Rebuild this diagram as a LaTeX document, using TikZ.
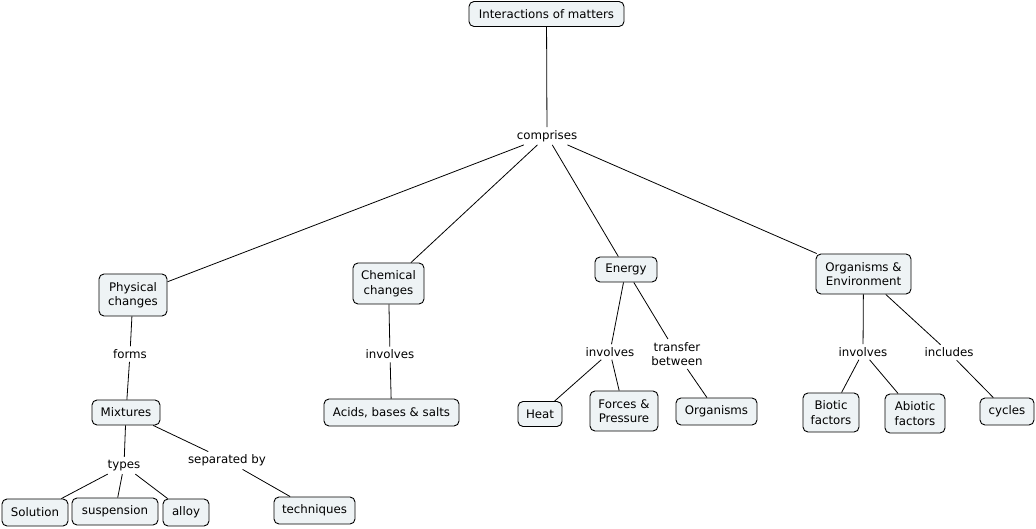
\documentclass[tikz,border=0pt]{standalone}
\usepackage{fontspec}
\setmainfont{DejaVu Sans}
\definecolor{boxfill}{HTML}{EEF3F5}
\begin{document}
\begin{tikzpicture}[x=1pt,y=-1pt,
  concept/.style={draw=black, line width=0.9pt, fill=boxfill, rounded corners=5pt,
    font=\fontsize{11.8}{14.5}\selectfont, align=center, inner xsep=4pt, inner ysep=3pt, minimum height=25pt},
  linkword/.style={font=\fontsize{11.8}{14.5}\selectfont, align=center, inner sep=3pt, fill=white},
  conn/.style={line width=0.8pt, black}]
\useasboundingbox (0,0) rectangle (1036,529);
% concepts
\node[concept, minimum width=155pt] (top) at (546.5,14) {Interactions of matters};
\node[concept, minimum width=68pt, minimum height=42pt] (phys) at (133,295) {Physical\\changes};
\node[concept, minimum width=71pt, minimum height=41pt] (chem) at (388.5,283.5) {Chemical\\changes};
\node[concept, minimum width=62pt] (energy) at (626,269.5) {Energy};
\node[concept, minimum width=95pt, minimum height=40pt] (orgenv) at (863.5,274) {Organisms \&\\Environment};
\node[concept, minimum width=68pt] (mix) at (126,412.5) {Mixtures};
\node[concept, minimum width=135pt, minimum height=27pt] (acids) at (391.5,412.5) {Acids, bases \& salts};
\node[concept, minimum width=44pt] (heat) at (540,414) {Heat};
\node[concept, minimum width=68pt, minimum height=40pt] (forces) at (624,411) {Forces \&\\Pressure};
\node[concept, minimum width=81pt, minimum height=27pt] (organisms) at (716.5,411.5) {Organisms};
\node[concept, minimum width=56pt, minimum height=39pt] (biotic) at (831,412.5) {Biotic\\factors};
\node[concept, minimum width=60pt, minimum height=39pt] (abiotic) at (915,413.5) {Abiotic\\factors};
\node[concept, minimum width=54pt, minimum height=27pt] (cycles) at (1007,411.5) {cycles};
\node[concept, minimum width=66pt, minimum height=27pt] (solution) at (35,512.5) {Solution};
\node[concept, minimum width=86pt, minimum height=27pt] (susp) at (115,511.5) {suspension};
\node[concept, minimum width=46pt, minimum height=27pt] (alloy) at (186,512.5) {alloy};
\node[concept, minimum width=81pt, minimum height=27pt] (tech) at (314.5,510.5) {techniques};
% linking words
\node[linkword] (comprises) at (547,136) {comprises};
\node[linkword] (forms) at (130,354) {forms};
\node[linkword] (inv1) at (390,354.5) {involves};
\node[linkword] (inv2) at (610,352) {involves};
\node[linkword] (transfer) at (677,354) {transfer\\between};
\node[linkword] (inv3) at (863,352) {involves};
\node[linkword] (includes) at (949,352.5) {includes};
\node[linkword] (types) at (124,465.5) {types};
\node[linkword] (sep) at (227,460.5) {separated by};
% connectors
\draw[conn] (top) -- (comprises);
\draw[conn] (comprises) -- (phys);
\draw[conn] (comprises) -- (chem);
\draw[conn] (comprises) -- (energy);
\draw[conn] (comprises) -- (orgenv);
\draw[conn] (phys) -- (forms);
\draw[conn] (forms) -- (mix);
\draw[conn] (chem) -- (inv1);
\draw[conn] (inv1) -- (acids);
\draw[conn] (energy) -- (inv2);
\draw[conn] (inv2) -- (heat);
\draw[conn] (inv2) -- (forces);
\draw[conn] (energy) -- (transfer);
\draw[conn] (transfer) -- (organisms);
\draw[conn] (orgenv) -- (inv3);
\draw[conn] (inv3) -- (biotic);
\draw[conn] (inv3) -- (abiotic);
\draw[conn] (orgenv) -- (includes);
\draw[conn] (includes) -- (cycles);
\draw[conn] (mix) -- (types);
\draw[conn] (types) -- (solution);
\draw[conn] (types) -- (susp);
\draw[conn] (types) -- (alloy);
\draw[conn] (mix) -- (sep);
\draw[conn] (sep) -- (tech);
\end{tikzpicture}
\end{document}
